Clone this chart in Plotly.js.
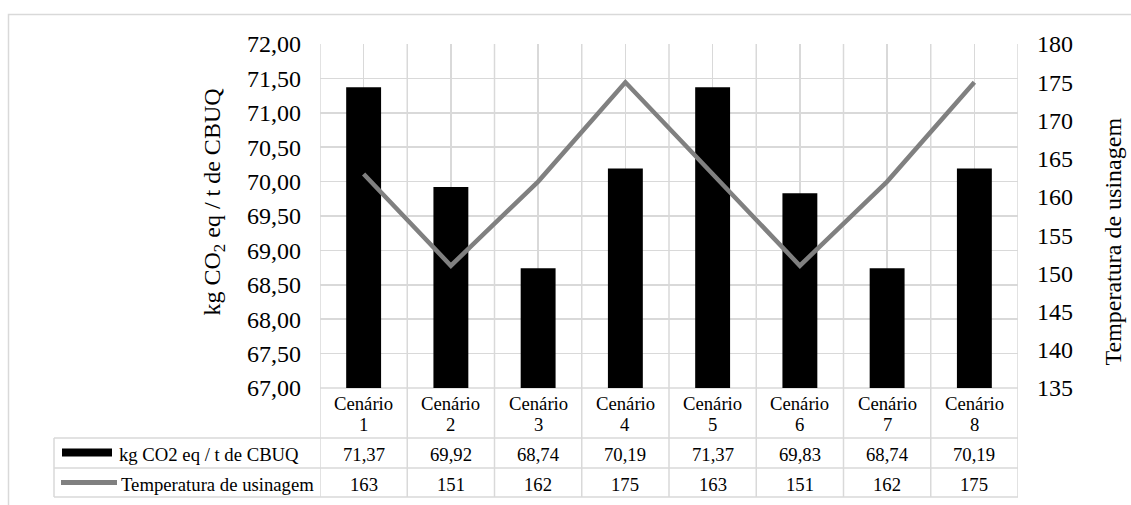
<!DOCTYPE html>
<html>
<head>
<meta charset="utf-8">
<script src="https://cdn.plot.ly/plotly-3.0.1.min.js"></script>
<style>
  html, body { margin: 0; padding: 0; background: #ffffff; }
  #chart { width: 1131px; height: 505px; }
</style>
</head>
<body>
<div id="chart"></div>
<script>
// Emissions per tonne of asphalt mix and plant temperature for each scenario
const categories = ['Cenário 1', 'Cenário 2', 'Cenário 3', 'Cenário 4',
                    'Cenário 5', 'Cenário 6', 'Cenário 7', 'Cenário 8'];
const co2Values = [71.37, 69.92, 68.74, 70.19, 71.37, 69.83, 68.74, 70.19];
const tempValues = [163, 151, 162, 175, 163, 151, 162, 175];
const seriesNames = ['kg CO2 eq / t de CBUQ', 'Temperatura de usinagem'];
const leftTitle = 'kg CO<sub>2</sub> eq / t de CBUQ';
const rightTitle = 'Temperatura de usinagem';

const W = 1131, H = 505;
const M = { l: 320, r: 113, t: 44, b: 117 };
const plotW = W - M.l - M.r;
const plotH = H - M.t - M.b;
// pixel -> paper coordinates
const xp = px => (px - M.l) / plotW;
const yp = py => (H - M.b - py) / plotH;

const FONT = 'Liberation Serif, Times New Roman, serif';
const GRID = '#d9d9d9';
const LINE_GRAY = '#808080';

const fmt2 = v => v.toFixed(2).replace('.', ',');

// table geometry (pixels)
const tableLeft = 54;
const rowTop = [388, 438, 468, 497];

const shapes = [];
const annotations = [];

// outer chart frame
shapes.push({ type: 'rect', xref: 'paper', yref: 'paper',
  x0: xp(8.5), x1: xp(1140), y0: yp(515), y1: yp(14.5),
  line: { color: GRID, width: 1.5 }, layer: 'below' });

// category boundaries: gridlines through plot and table
for (let i = 0; i <= categories.length; i++) {
  shapes.push({ type: 'line', xref: 'x', yref: 'paper',
    x0: i - 0.5, x1: i - 0.5, y0: yp(rowTop[3]), y1: 1,
    line: { color: GRID, width: 1.5 }, layer: 'below' });
}
// table horizontal rules
shapes.push({ type: 'line', xref: 'paper', yref: 'paper',
  x0: 0, x1: 1, y0: 0, y1: 0, line: { color: GRID, width: 1.5 }, layer: 'below' });
for (let r = 1; r < rowTop.length; r++) {
  shapes.push({ type: 'line', xref: 'paper', yref: 'paper',
    x0: xp(tableLeft), x1: 1, y0: yp(rowTop[r]), y1: yp(rowTop[r]),
    line: { color: GRID, width: 1.5 }, layer: 'below' });
}
// table left edge
shapes.push({ type: 'line', xref: 'paper', yref: 'paper',
  x0: xp(tableLeft), x1: xp(tableLeft), y0: yp(rowTop[3]), y1: yp(rowTop[1]),
  line: { color: GRID, width: 1.5 }, layer: 'below' });

// legend keys inside the table
shapes.push({ type: 'rect', xref: 'paper', yref: 'paper',
  x0: xp(62), x1: xp(112), y0: yp(456.5), y1: yp(448.5),
  fillcolor: '#000000', line: { width: 0 } });
shapes.push({ type: 'line', xref: 'paper', yref: 'paper',
  x0: xp(61), x1: xp(117), y0: yp(482.5), y1: yp(482.5),
  line: { color: LINE_GRAY, width: 5 } });

const tableFont = { family: FONT, size: 18.7, color: '#000000' };
const cell = (xref, x, py, text, anchor) => ({
  xref: xref, yref: 'paper', x: x, y: yp(py), text: text, showarrow: false,
  xanchor: anchor || 'center', yanchor: 'middle', font: tableFont });

categories.forEach((c, i) => {
  const parts = c.split(' ');
  annotations.push(cell('x', i, 403.5, parts[0]));
  annotations.push(cell('x', i, 424.5, parts[1]));
  annotations.push(cell('x', i, 454.5, fmt2(co2Values[i])));
  annotations.push(cell('x', i, 484, String(tempValues[i])));
});
annotations.push(cell('paper', xp(117), 454.5, seriesNames[0], 'left'));
annotations.push(cell('paper', xp(119), 484, seriesNames[1], 'left'));

// axis titles
const titleFont = { family: FONT, size: 24, color: '#000000' };
annotations.push({ xref: 'paper', yref: 'paper', x: xp(213), y: yp(202.5),
  text: leftTitle, textangle: -90, showarrow: false,
  xanchor: 'center', yanchor: 'middle', font: titleFont });
annotations.push({ xref: 'paper', yref: 'paper', x: xp(1112), y: yp(241.5),
  text: rightTitle, textangle: -90, showarrow: false,
  xanchor: 'center', yanchor: 'middle', font: titleFont });

const traces = [
  { type: 'bar', x: categories, y: co2Values, name: seriesNames[0],
    marker: { color: '#000000', line: { width: 0 } }, yaxis: 'y', hoverinfo: 'x+y' },
  { type: 'scatter', mode: 'lines', x: categories, y: tempValues, name: seriesNames[1],
    line: { color: LINE_GRAY, width: 4.5 }, yaxis: 'y2', hoverinfo: 'x+y' }
];

const tickFont = { family: FONT, size: 24, color: '#000000' };
const layout = {
  width: W, height: H,
  margin: M,
  paper_bgcolor: '#ffffff', plot_bgcolor: 'rgba(0,0,0,0)',
  separators: ',.',
  showlegend: false,
  bargap: 0.6,
  font: { family: FONT, size: 24, color: '#000000' },
  xaxis: { type: 'category', range: [-0.5, 7.5], showticklabels: false,
    showgrid: true, gridcolor: GRID, gridwidth: 1.5, zeroline: false,
    showline: false, ticks: '', fixedrange: true },
  yaxis: { range: [67, 72], dtick: 0.5, tick0: 67, tickformat: '.2f',
    showgrid: true, gridcolor: GRID, gridwidth: 1.5, zeroline: false,
    showline: false, ticks: '', ticklabelstandoff: 18, tickfont: tickFont },
  yaxis2: { overlaying: 'y', side: 'right', range: [135, 180], dtick: 5, tick0: 135,
    showgrid: false, zeroline: false, showline: false, ticks: '', ticklabelstandoff: 18,
    tickfont: tickFont },
  shapes: shapes,
  annotations: annotations
};

Plotly.newPlot('chart', traces, layout, { displayModeBar: false, staticPlot: true });
</script>
</body>
</html>
